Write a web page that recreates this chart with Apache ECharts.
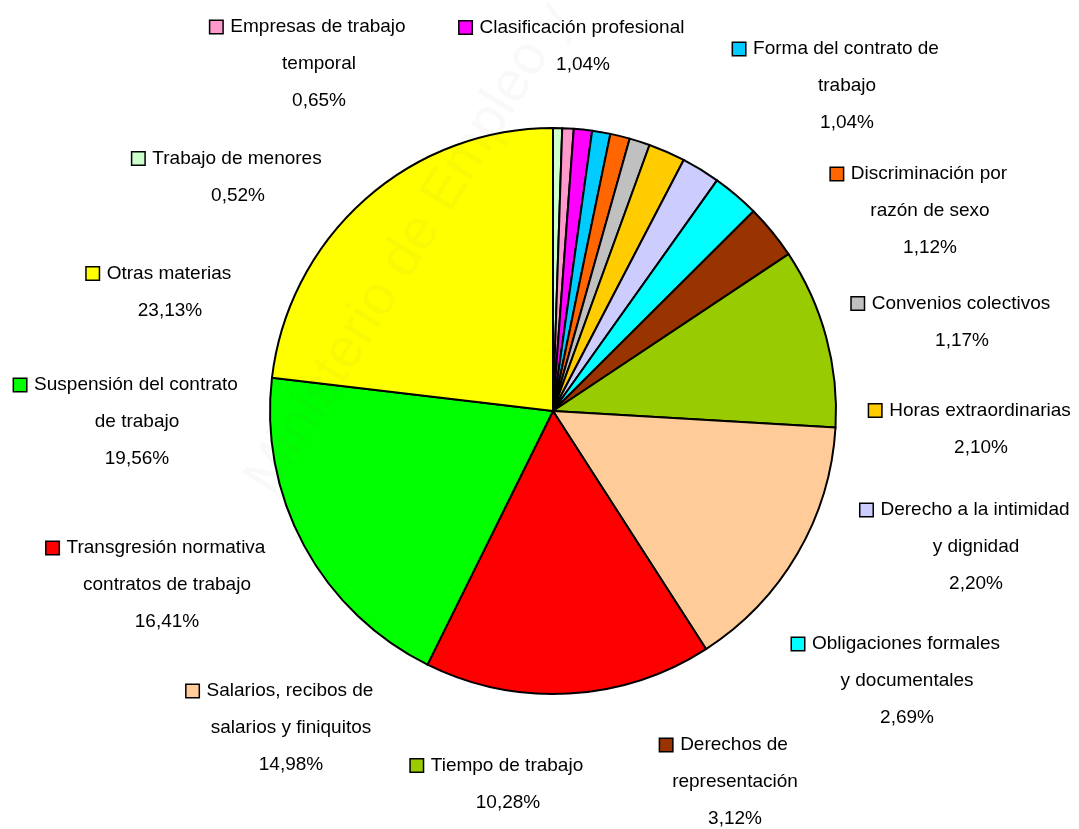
<!DOCTYPE html>
<html>
<head>
<meta charset="utf-8">
<script src="https://cdn.jsdelivr.net/npm/echarts@6/dist/echarts.min.js"></script>
<style>
    html, body { margin: 0; padding: 0; background: #fff; }
    #chartPie { width: 1079px; height: 829px; }
</style>
</head>
<body>
<div id="chartPie"></div>
<script>
    // slices, clockwise from 12 o'clock
    var categories = [
        'Trabajo de menores',
        'Empresas de trabajo\ntemporal',
        'Clasificación profesional',
        'Forma del contrato de\ntrabajo',
        'Discriminación por\nrazón de sexo',
        'Convenios colectivos',
        'Horas extraordinarias',
        'Derecho a la intimidad\ny dignidad',
        'Obligaciones formales\ny documentales',
        'Derechos de\nrepresentación',
        'Tiempo de trabajo',
        'Salarios, recibos de\nsalarios y finiquitos',
        'Transgresión normativa\ncontratos de trabajo',
        'Suspensión del contrato\nde trabajo',
        'Otras materias'
    ];
    var percents = [0.52, 0.65, 1.04, 1.04, 1.12, 1.17, 2.10, 2.20, 2.69, 3.12, 10.28, 14.98, 16.41, 19.56, 23.13];
    var colors = ['#CCFFCC', '#FF99CC', '#FF00FF', '#00CCFF', '#FF6600', '#C0C0C0', '#FFCC00', '#CCCCFF',
                  '#00FFFF', '#993300', '#99CC00', '#FFCC99', '#FF0000', '#00FF00', '#FFFF00'];

    // where each label block sits (centre of its text)
    var labelAt = [
        [238, 177], [319, 64], [583, 46], [847, 86], [930, 211], [962, 322], [981, 429], [976, 547],
        [907, 681], [735, 782], [508, 784], [291, 728], [167, 585], [137, 422], [170, 292]
    ];

    var chartPie = echarts.init(document.getElementById('chartPie'));

    var pieData = categories.map(function (name, i) {
        return {
            name: name,
            value: percents[i],
            itemStyle: { color: colors[i] },
            label: {
                rich: {
                    sq: {
                        width: 12, height: 12,
                        backgroundColor: colors[i],
                        borderColor: '#000', borderWidth: 1.5
                    },
                    gap: { width: 8 },
                    pad: { width: 22 }
                }
            }
        };
    });

    chartPie.setOption({
        animation: false,
        backgroundColor: '#fff',
        textStyle: { fontFamily: '"Liberation Sans", Arial, sans-serif' },
        graphic: [{
            type: 'text',
            x: 236, y: 474,
            rotation: 58 * Math.PI / 180,
            z: 100,
            silent: true,
            style: {
                text: 'Ministerio de Empleo y Seguridad Social',
                font: '56px "Liberation Sans", Arial',
                fill: 'rgba(120,120,120,0.045)'
            }
        }],
        series: [{
            type: 'pie',
            center: [553, 411],
            radius: 283,
            startAngle: 90,
            clockwise: true,
            avoidLabelOverlap: false,
            itemStyle: { borderColor: '#000', borderWidth: 2 },
            emphasis: { disabled: true },
            labelLine: { show: false },
            label: {
                show: true,
                position: 'outside',
                color: '#000',
                fontSize: 19,
                lineHeight: 37,
                align: 'center',
                formatter: function (p) {
                    var lines = p.name.split('\n');
                    lines[0] = '{sq|}{gap|}' + lines[0] + '{pad|}';
                    lines.push(p.value.toFixed(2).replace('.', ',') + '%');
                    return lines.join('\n');
                }
            },
            labelLayout: function (params) {
                var pos = labelAt[params.dataIndex];
                return { x: pos[0], y: pos[1], align: 'center', verticalAlign: 'middle' };
            },
            data: pieData
        }]
    });
</script>
</body>
</html>
